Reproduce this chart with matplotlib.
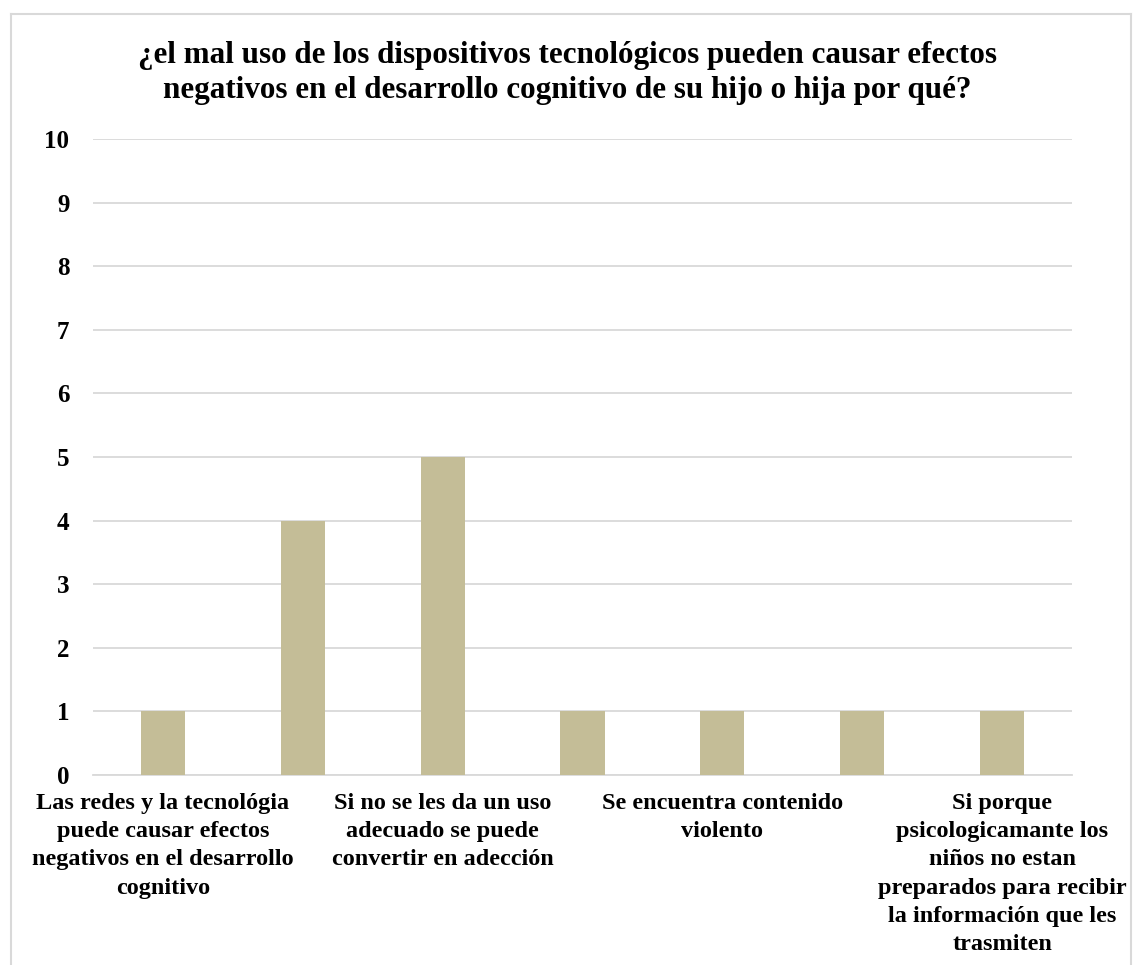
import matplotlib.pyplot as plt
from matplotlib.lines import Line2D

categories = [
    "Las redes y la tecnológia\npuede causar efectos\nnegativos en el desarrollo\ncognitivo",
    "",
    "Si no se les da un uso\nadecuado se puede\nconvertir en adecci\u00f3n",
    "",
    "Se encuentra contenido\nviolento",
    "",
    "Si porque\npsicologicamante los\nni\u00f1os no estan\npreparados para recibir\nla informaci\u00f3n que les\ntrasmiten",
]
values = [1, 4, 5, 1, 1, 1, 1]
y_ticks = list(range(0, 11))

title = ("\u00bfel mal uso de los dispositivos tecnol\u00f3gicos pueden causar efectos\n"
         "negativos en el desarrollo cognitivo de su hijo o hija por qu\u00e9?")

plt.rcParams['font.family'] = ['Liberation Serif', 'DejaVu Serif']

W, H = 1134, 965
fig = plt.figure(figsize=(W / 100, H / 100), dpi=100)
ax = fig.add_axes([93 / W, 1 - 775 / H, (1072 - 93) / W, (775 - 139) / H])

bar_col = '#C4BD97'
grid_col = '#D9D9D9'

x = list(range(len(values)))
ax.bar(x, values, width=0.315, color=bar_col, zorder=3)

ax.set_xlim(-0.5, len(values) - 0.5)
ax.set_ylim(0, 10)
ax.set_yticks(y_ticks)
ax.set_yticklabels([str(v) for v in y_ticks], fontsize=18, fontweight='bold')
ax.yaxis.grid(True, color=grid_col, linewidth=1.3, zorder=0)
ax.tick_params(axis='both', length=0)
ax.tick_params(axis='y', pad=17)

ax.set_xticks(x)
ax.set_xticklabels(categories, fontsize=17.5, fontweight='bold', va='top',
                   ha='center', linespacing=1.45)
ax.tick_params(axis='x', pad=13)

for s in ['top', 'right', 'left']:
    ax.spines[s].set_visible(False)
ax.spines['bottom'].set_color(grid_col)
ax.spines['bottom'].set_linewidth(1.3)

fig.text(0.5, 1 - 73 / H, title, ha='center', va='center', fontsize=22.4,
         fontweight='bold', linespacing=1.26)

# chart border
bx0, bx1, by0 = 10.5 / W, 1131 / W, 1 - 13.5 / H
for xs, ys in [([bx0, bx0], [0, by0]), ([bx0, bx1], [by0, by0]), ([bx1, bx1], [0, by0])]:
    fig.add_artist(Line2D(xs, ys, color=grid_col, linewidth=1.5, transform=fig.transFigure))

fig.savefig('out.png', dpi=100, facecolor='white')
